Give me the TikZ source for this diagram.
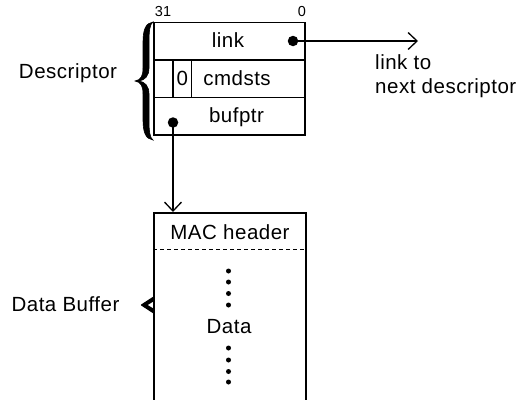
\documentclass[tikz,border=0pt]{standalone}
\usepackage{fontspec}
\setmainfont{Liberation Sans}[LetterSpace=2.5]
\usetikzlibrary{arrows.meta}
\begin{document}
\begin{tikzpicture}[x=1pt,y=-1pt,
  txt/.style={font=\fontsize{20.5}{24.5}\selectfont, inner sep=0pt},
  small/.style={font=\fontsize{14.5}{17}\selectfont, inner sep=0pt},
  cell/.style={draw, line width=1.6pt, inner sep=0pt, minimum height=37.5pt},
  bigdot/.style={circle, fill, inner sep=0pt, minimum size=10.5pt},
  pip/.style={circle, fill, inner sep=0pt, minimum size=5pt},
  arr/.style={line width=1.3pt, -{Straight Barb[length=9pt,width=17pt,line width=1.3pt]}},
  bracefill/.style={fill=black, draw=black, line width=0.6pt}
]
\useasboundingbox (0,0) rectangle (518,399);

% bit numbering above the descriptor
\node[small] (b31) at (163,12) {31};
\node[small] (b0) at (302,12) {0};

% descriptor rows
\node[cell, minimum width=151pt] (link) at (229.5,41.25) {};
\node[cell, minimum width=151pt] (cmd) at (229.5,78.75) {};
\node[cell, minimum width=151pt] (buf) at (229.5,116.25) {};
\node[cell, minimum width=19pt] (rsv) at (163.5,78.75) {};
\node[cell, minimum width=18.5pt, txt] (zero) at (182.25,78.75) {0};

\node[txt] (linkt) at (228,40) {link};
\node[txt] (cmdt) at (237,78) {cmdsts};
\node[txt] (buft) at (236.5,117) {bufptr};

% pointers
\node[bigdot] (ldot) at (293,41) {};
\node[bigdot] (bdot) at (173,122.5) {};
\coordinate (next) at (418,41);
\draw[arr] (ldot.center) -- (next);

\node[txt, anchor=west, align=left] (nextt) at (375,76) {link to\\next descriptor};

% descriptor brace
\draw[bracefill]
  (153,22) .. controls (146,23) and (143,29) .. (143,42)
  -- (143,68) .. controls (143,76) and (141,80) .. (135,81)
  .. controls (141,82) and (143,86) .. (143,94)
  -- (143,120) .. controls (143,133) and (146,139) .. (153,140)
  .. controls (150,138) and (149,132) .. (149,120)
  -- (149,94) .. controls (149,86) and (145,82) .. (139,81)
  .. controls (145,80) and (149,76) .. (149,68)
  -- (149,42) .. controls (149,30) and (150,24) .. (153,22) -- cycle;
\node[txt] (desc) at (68,73) {Descriptor};

% data buffer
\node[draw, line width=1.6pt, minimum width=152pt, minimum height=200pt,
      anchor=north west, inner sep=0pt] (data) at (153,212) {};
\coordinate (dl) at (153,249.5);
\coordinate (dr) at (305,249.5);
\draw[line width=1.2pt, dash pattern=on 4pt off 3pt] (dl) -- (dr);
\node[txt] (mac) at (230,232) {MAC header};
\foreach \y [count=\i] in {271,282,293.5,305} \node[pip] (u\i) at (228.5,\y) {};
\node[txt] (datat) at (229,327) {Data};
\foreach \y [count=\i] in {348,360,371.5,382} \node[pip] (d\i) at (228.5,\y) {};

\coordinate (bin) at (173,212);
\draw[arr] (bdot.center) -- (bin);

% data buffer brace
\draw[bracefill, line width=1.2pt, line join=round]
  (153,297.5) -- (141.5,305) -- (153,312.5) -- (153,309) -- (146.5,305) -- (153,301) -- cycle;
\node[txt] (dbuf) at (65.5,304) {Data Buffer};
\end{tikzpicture}
\end{document}
